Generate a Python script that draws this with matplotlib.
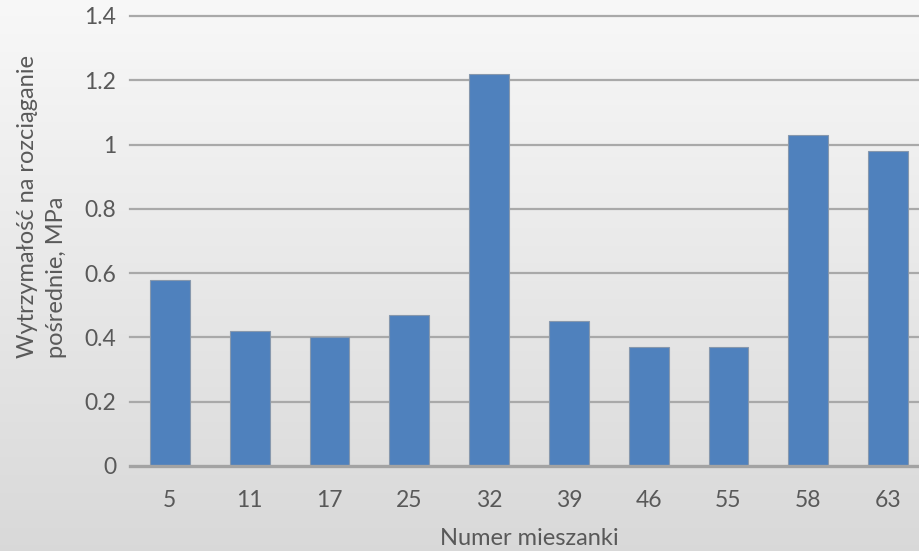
import numpy as np
import matplotlib
matplotlib.use("Agg")
import matplotlib.pyplot as plt

# Mixture numbers and indirect tensile strength (MPa)
mixtures = ["5", "11", "17", "25", "32", "39", "46", "55", "58", "63"]
strength = [0.58, 0.42, 0.40, 0.47, 1.22, 0.45, 0.37, 0.37, 1.03, 0.98]
y_ticks = [0, 0.2, 0.4, 0.6, 0.8, 1.0, 1.2, 1.4]
y_tick_labels = ["0", "0.2", "0.4", "0.6", "0.8", "1", "1.2", "1.4"]

plt.rcParams["font.family"] = ["Lato", "DejaVu Sans"]
text_color = "#595959"

W, H = 920, 551
fig = plt.figure(figsize=(W / 100, H / 100), dpi=100)

# Soft vertical gradient behind the whole chart
bg = fig.add_axes([0, 0, 1, 1], zorder=-10)
grad = np.linspace(0.972, 0.850, 256).reshape(-1, 1)
bg.imshow(np.dstack([grad, grad, grad]), aspect="auto", extent=[0, 1, 0, 1])
bg.set_axis_off()

left, right, top, bottom = 130, 928, 16, 466
ax = fig.add_axes([left / W, 1 - bottom / H, (right - left) / W, (bottom - top) / H])
ax.set_facecolor("none")

x = np.arange(len(mixtures))
ax.bar(x, strength, width=0.5, color="#4f81bd", edgecolor="#8798ad",
       linewidth=0.8, zorder=3)

ax.set_xlim(-0.5, len(mixtures) - 0.5)
ax.set_ylim(0, 1.4)
ax.set_yticks(y_ticks)
ax.set_yticklabels(y_tick_labels)
ax.set_xticks(x)
ax.set_xticklabels(mixtures)

for yv in y_ticks[1:]:
    ax.axhline(yv, color="#a9a9a9", linewidth=1.6, zorder=1, clip_on=False)
ax.axhline(0, color="#a3a3a3", linewidth=2.4, zorder=4, clip_on=False)

for s in ax.spines.values():
    s.set_visible(False)
ax.tick_params(axis="both", length=0, labelsize=16.5, colors=text_color)
ax.tick_params(axis="y", pad=10)
ax.tick_params(axis="x", pad=17)

ax.set_xlabel("Numer mieszanki", fontsize=17, color=text_color, labelpad=12.5)

fig.text(42 / W, 1 - 206 / H, "Wytrzymałość na rozciąganie\npośrednie, MPa",
         rotation=90, ha="center", va="center", multialignment="left",
         fontsize=17, color=text_color, linespacing=1.5)

fig.savefig("out.png", dpi=100)
